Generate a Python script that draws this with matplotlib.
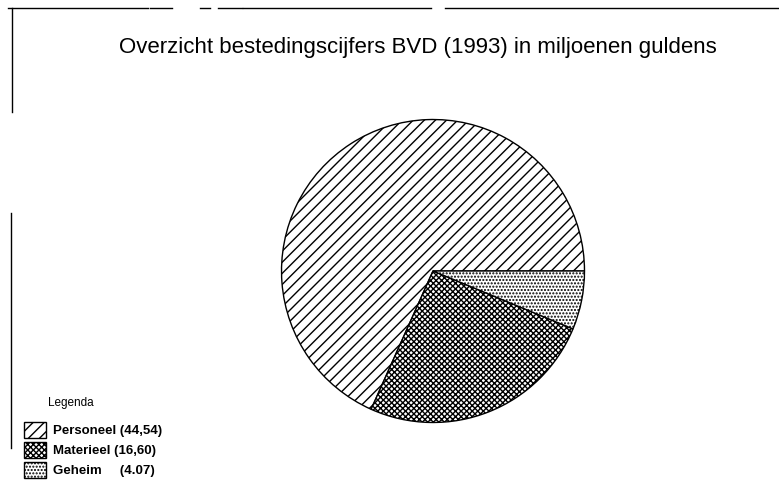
import matplotlib
matplotlib.use("Agg")
import matplotlib.pyplot as plt
from matplotlib import rcParams
from matplotlib.lines import Line2D

# data (miljoenen guldens)
categories = ["Personeel", "Materieel", "Geheim"]
values = [44.54, 16.60, 4.07]
legend_labels = ["Personeel (44,54)", "Materieel (16,60)", "Geheim     (4.07)"]
hatches = ["///", "xxxxxx", "....."]

title_text = "Overzicht bestedingscijfers BVD (1993) in miljoenen guldens"

W, H = 779, 480

rcParams['font.family'] = ['Liberation Sans', 'DejaVu Sans']
rcParams['hatch.linewidth'] = 1.0
rcParams['hatch.color'] = 'black'


def fx(x):
    return x / W


def fy(y):
    # y in pixels from top
    return 1 - y / H


fig = plt.figure(figsize=(W / 100, H / 100), dpi=100, facecolor='white')

# pie axes: centre (433, 271) px, radius ~153 px
cx, cy, r = 433, 271, 153
ax = fig.add_axes([fx(cx - r), fy(cy + r), 2 * r / W, 2 * r / H])
wedges, _ = ax.pie(values, startangle=0, counterclock=True,
                   colors=['white'] * 3,
                   wedgeprops=dict(edgecolor='black', linewidth=1.0))
for w, h in zip(wedges, hatches):
    w.set_hatch(h)
ax.set_xlim(-1.01, 1.01)
ax.set_ylim(-1.01, 1.01)
ax.set_aspect('equal')
ax.axis('off')

# title
fig.text(fx(418), fy(48), title_text, ha='center', va='center', fontsize=16)

# legend
fig.text(fx(48), fy(403), "Legenda", ha='left', va='center', fontsize=8.5)
fig.legend(wedges, legend_labels, loc='upper left',
           bbox_to_anchor=(fx(13), fy(411)), frameon=False,
           handlelength=1.7, handleheight=1.5,
           labelspacing=0.3, handletextpad=0.55, borderpad=0.3,
           prop={'weight': 'bold', 'size': 9.5})

# broken frame lines of the scan
segs = [
    ((8, 8), (148, 8)), ((150, 8), (172, 8)), ((200, 8), (210, 8)),
    ((218, 8), (242, 8)), ((243, 8), (431, 8)), ((445, 8), (779, 8)),
    ((12, 8), (12, 112)), ((11, 213), (11, 448)),
]
for (x0, y0), (x1, y1) in segs:
    fig.add_artist(Line2D([fx(x0), fx(x1)], [fy(y0), fy(y1)],
                          transform=fig.transFigure, color='black', lw=1.0))

plt.savefig("out.png", dpi=100, facecolor='white')
